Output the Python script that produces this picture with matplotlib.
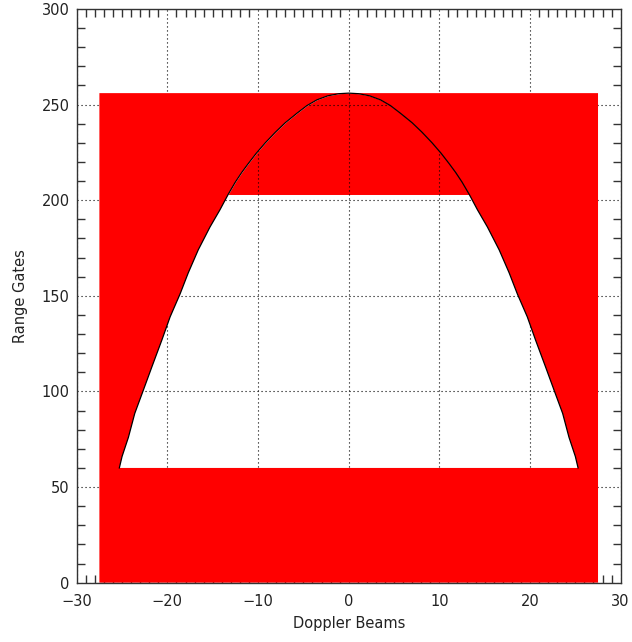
import numpy as np
import matplotlib
matplotlib.use('Agg')
import matplotlib.pyplot as plt
from matplotlib.path import Path
from matplotlib.patches import PathPatch
from matplotlib.ticker import MultipleLocator

# bloque de celdas (haces x compuertas)
haz_min, haz_max = -27.5, 27.5
compuerta_max = 256
limite_inf = 60
limite_sup = 203

# borde del abanico
curva_x = [-25.3, -25.0, -24.3, -23.6, -22.65, -21.7, -20.6, -19.7, -18.6, -17.7,
           -16.6, -15.3, -14.2, -13.3, -12.5, -11.8, -11.1, -10.2, -9.2, -8.1,
           -7.0, -5.7, -4.6, -3.5, -2.3, -1.1, 0.0,
           1.1, 2.3, 3.5, 4.6, 5.7, 7.0, 8.1, 9.2, 10.2, 11.1, 11.8, 12.5,
           13.3, 14.2, 15.3, 16.6, 17.7, 18.6, 19.7, 20.6, 21.7, 22.65, 23.6,
           24.3, 25.0, 25.3]
curva_y = [60, 66, 76, 88.5, 100.7, 113, 127, 139, 151, 162,
           174, 186, 195, 203, 209.5, 214.5, 219, 224.5, 230, 235.5,
           240.5, 245.5, 249.5, 252.5, 254.6, 255.7, 256,
           255.7, 254.6, 252.5, 249.5, 245.5, 240.5, 235.5, 230, 224.5, 219, 214.5, 209.5,
           203, 195, 186, 174, 162, 151, 139, 127, 113, 100.7, 88.5,
           76, 66, 60]

rojo = '#ff0000'
cx = np.array(curva_x)
cy = np.array(curva_y, dtype=float)

fig = plt.figure(figsize=(6.32, 6.42), dpi=100)
ax = fig.add_axes([0.1214, 0.0924, 0.8607, 0.8936])

# casquete interior (rojo, con rejilla visible encima)
ax.fill_between(cx, limite_sup, np.maximum(cy, limite_sup), where=cy >= limite_sup,
                color=rojo, lw=0, zorder=1)

# zona exterior roja con hueco en el abanico (tapa la rejilla)
exterior = [(haz_min, 0), (haz_max, 0), (haz_max, compuerta_max),
            (haz_min, compuerta_max), (haz_min, 0)]
hueco = list(zip(cx, cy)) + [(cx[0], cy[0])]
verts = exterior + hueco
codes = ([Path.MOVETO] + [Path.LINETO] * 3 + [Path.CLOSEPOLY] +
         [Path.MOVETO] + [Path.LINETO] * (len(hueco) - 2) + [Path.CLOSEPOLY])
ax.add_patch(PathPatch(Path(verts, codes), facecolor=rojo, edgecolor='none', zorder=2.2))

ax.plot(cx, cy, color='black', lw=0.9, zorder=2.3)

ax.set_xlim(-30, 30)
ax.set_ylim(0, 300)
ax.xaxis.set_major_locator(MultipleLocator(10))
ax.xaxis.set_minor_locator(MultipleLocator(1))
ax.yaxis.set_major_locator(MultipleLocator(50))
ax.yaxis.set_minor_locator(MultipleLocator(10))
ax.tick_params(which='both', direction='in', top=True, right=True, colors='#333333')
ax.tick_params(which='major', length=0, labelsize=10.5, labelcolor='#222222')
ax.tick_params(which='minor', length=6, width=1)
ax.tick_params(axis='x', which='major', pad=8)
ax.tick_params(axis='y', which='major', pad=5)
ax.grid(True, which='major', color='black', linestyle=(0, (1, 2.6)), lw=0.8)

for s in ax.spines.values():
    s.set_color('#333333')
    s.set_linewidth(1)
    s.set_zorder(2.5)

ax.set_xlabel('Doppler Beams', fontsize=10.5, color='#222222', labelpad=5)
ax.set_ylabel('Range Gates', fontsize=10.5, color='#222222', labelpad=10)

fig.savefig('out.png', dpi=100)
